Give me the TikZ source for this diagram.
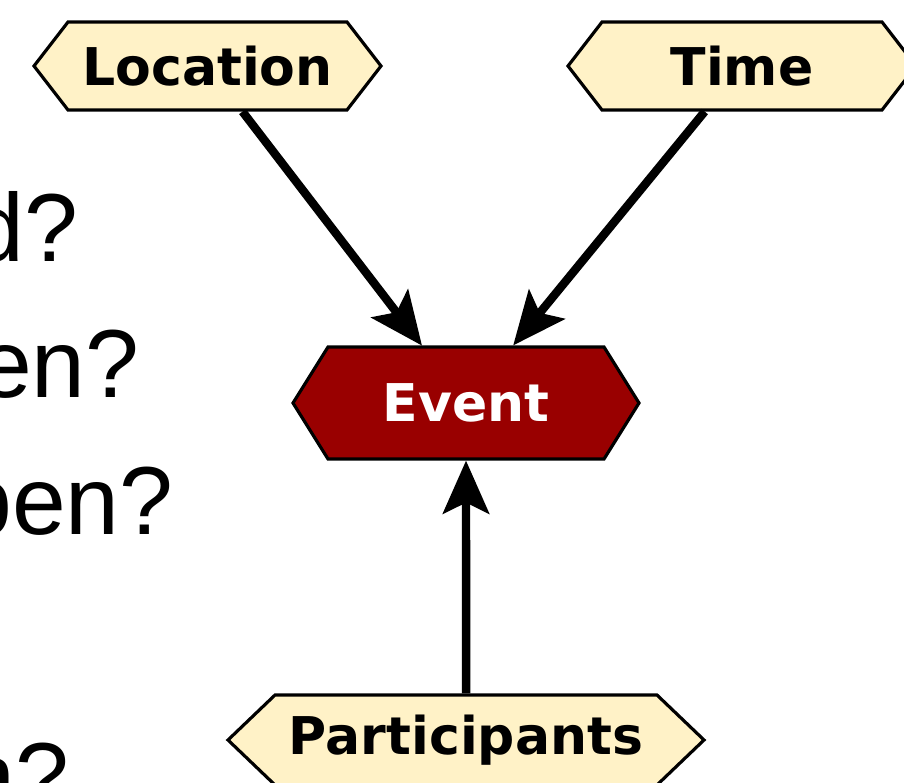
\documentclass[tikz,border=0pt]{standalone}
\usepackage{fontspec}
\setmainfont{DejaVu Sans}
\newfontfamily\questionfont{Liberation Sans}
\usepackage{xcolor}
\usetikzlibrary{arrows.meta, positioning, shapes.symbols}
\definecolor{slotfill}{RGB}{255,242,199}
\definecolor{eventred}{RGB}{153,0,0}

\begin{document}
\begin{tikzpicture}[
    hexbox/.style={shape=signal, signal to=west and east, draw=black, line width=0.9pt,
        fill=slotfill, inner sep=0pt, font=\fontsize{14.8}{17}\selectfont\bfseries},
    eventbox/.style={hexbox, fill=eventred, text=white},
    question/.style={anchor=base east, inner sep=0pt, font=\questionfont\fontsize{27.5}{33}\selectfont},
    link/.style={-{Stealth[length=5.3mm, width=4.6mm, inset=1.1mm]}, line width=2.4pt}
]
\useasboundingbox (0,0) rectangle (9.04,7.82);
\clip (0,0) rectangle (9.04,7.82);
% questions cut off at the left edge
\node[question] (q1) at (0.79,5.20) {d?};
\node[question] (q2) at (1.40,3.84) {en?};
\node[question] (q3) at (1.74,2.48) {pen?};
\node[question] (q4) at (0.70,-0.28) {n?};
% event and its slots
\node[eventbox, minimum width=3.46cm, minimum height=1.12cm, signal pointer angle=116] (event) at (4.66,3.79) {Event};
\node[hexbox, minimum width=3.47cm, minimum height=0.88cm, signal pointer angle=104.6] (location) at (2.075,7.16) {Location};
\node[hexbox, minimum width=3.48cm, minimum height=0.88cm, signal pointer angle=104.6] (time) at (7.42,7.16) {Time};
\node[hexbox, minimum width=4.76cm, minimum height=0.90cm, signal pointer angle=87.5] (participants) at (4.66,0.42) {Participants};
\draw[link] (location) -- (event);
\draw[link] (time) -- (event);
\draw[link] (participants) -- (event);
\end{tikzpicture}
\end{document}
